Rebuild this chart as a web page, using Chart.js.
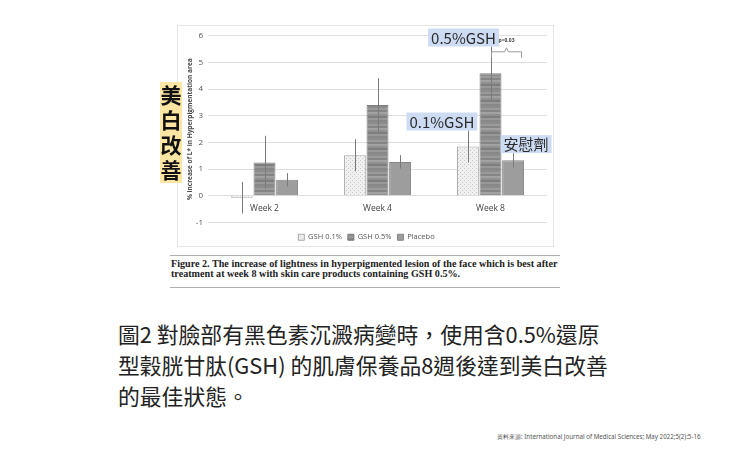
<!DOCTYPE html>
<html>
<head>
<meta charset="utf-8">
<script src="https://cdn.jsdelivr.net/npm/chart.js@4.4.1/dist/chart.umd.min.js"></script>
<style>
    body { margin: 0; width: 740px; height: 463px; background: #fff; position: relative; overflow: hidden; font-family: "Noto Sans CJK TC", "Noto Sans", sans-serif; }
    #frame { position: absolute; left: 177px; top: 25px; width: 375px; height: 220px; border: 1px solid #e4e4e4; }
    #frame canvas { position: absolute; left: 0; top: 0; }
    #tag { position: absolute; left: 160px; top: 82px; width: 22px; height: 101px; background: #fde6a3; color: #111; font-weight: 700; font-size: 21px; line-height: 25px; text-align: center; }
    .rule { position: absolute; left: 170px; width: 390px; height: 0; border-top: 1.5px solid #b0b0b0; }
    #caption { position: absolute; left: 171px; top: 259px; font-family: "Liberation Serif", serif; font-weight: 700; font-size: 10.15px; line-height: 9.5px; color: #222; white-space: nowrap; }
    #desc { position: absolute; left: 118px; top: 318px; font-size: 21.8px; line-height: 31px; color: #222; white-space: nowrap; }
    #source { position: absolute; left: 497px; top: 432px; font-family: "Noto Sans", sans-serif; font-size: 6.2px; color: #555; white-space: nowrap; }
</style>
</head>
<body>
<div id="frame"><canvas id="myChart" width="375" height="225"></canvas></div>
<div id="tag">美<br>白<br>改<br>善</div>
<div class="rule" style="top:255px"></div>
<div id="caption">Figure 2. The increase of lightness in hyperpigmented lesion of the face which is best after<br>treatment at week 8 with skin care products containing GSH 0.5%.</div>
<div class="rule" style="top:287px"></div>
<div id="desc">圖2 對臉部有黑色素沉澱病變時，使用含0.5%還原<br>型穀胱甘肽(GSH) 的肌膚保養品8週後達到美白改善<br>的最佳狀態。</div>
<div id="source">資料來源: International Journal of Medical Sciences; May 2022;5(2):5-16</div>
<script>
const categories = ["Week 2", "Week 4", "Week 8"];
const seriesNames = ["GSH 0.1%", "GSH 0.5%", "Placebo"];
const gsh01 = [-0.07, 1.52, 1.85];
const gsh01Err = [0.59, 0.6, 0.6];
const gsh05 = [1.25, 3.41, 4.6];
const gsh05Err = [1.0, 1.0, 1.0];
const placebo = [0.6, 1.27, 1.33];
const placeboErr = [0.25, 0.25, 0.27];
const yMin = -1;
const yMax = 6;
const yTitle = "% increase of L* in Hyperpigmentation area";
// callout labels: [text, dataset, category]
const callouts = [["0.5%GSH", 1, 2], ["0.1%GSH", 0, 2], ["安慰劑", 2, 2]];
const pValue = "p=0.03";

const errors = [gsh01Err, gsh05Err, placeboErr];

function makePattern(kind) {
    const c = document.createElement("canvas");
    const g = c.getContext("2d");
    if (kind === "dots") {
        c.width = 4; c.height = 4;
        g.fillStyle = "#f0f0f0";
        g.fillRect(0, 0, 4, 4);
        g.fillStyle = "#c8c8c8";
        g.fillRect(0, 0, 1, 1);
        g.fillRect(2, 2, 1, 1);
    } else {
        const rows = ["#8c8c8c", "#9a9a9a", "#858585", "#a2a2a2", "#909090", "#7e7e7e", "#999999", "#888888"];
        c.width = 4; c.height = rows.length * 2;
        rows.forEach((col, i) => {
            g.fillStyle = col;
            g.fillRect(0, i * 2, 4, 2);
        });
    }
    return g.createPattern(c, "repeat");
}

const ctx = document.getElementById("myChart").getContext("2d");

const extras = {
    id: "extras",
    afterDatasetsDraw(chart) {
        const { ctx, scales: { x, y } } = chart;
        ctx.save();

        // error bars
        ctx.strokeStyle = "#7a7a7a";
        ctx.lineWidth = 1;
        chart.data.datasets.forEach((ds, d) => {
            chart.getDatasetMeta(d).data.forEach((bar, i) => {
                const v = ds.data[i], e = errors[d][i];
                const bx = Math.round(bar.x) + 0.5;
                ctx.beginPath();
                ctx.moveTo(bx, y.getPixelForValue(v + e));
                ctx.lineTo(bx, y.getPixelForValue(v - e));
                ctx.stroke();
            });
        });

        // category labels sit under the zero line
        ctx.fillStyle = "#444";
        ctx.font = "8.5px 'Open Sans', sans-serif";
        ctx.textAlign = "center";
        ctx.textBaseline = "middle";
        categories.forEach((c, i) => {
            ctx.fillText(c, x.getPixelForValue(i), y.getPixelForValue(0) + 13);
        });

        // callouts above the error bars
        const offsets = { 0: -26, 1: -27, 2: 13 };
        ctx.font = "15px 'Noto Sans CJK TC', 'Noto Sans', sans-serif";
        callouts.forEach(([text, d, i]) => {
            const bar = chart.getDatasetMeta(d).data[i];
            const top = y.getPixelForValue(chart.data.datasets[d].data[i] + errors[d][i]);
            const w = ctx.measureText(text).width + 6;
            const cx = bar.x + offsets[d];
            ctx.fillStyle = "#cddcf3";
            ctx.fillRect(cx - w / 2, top - 18, w, 18);
            ctx.fillStyle = "#2a2a2a";
            ctx.fillText(text, cx, top - 8.5);
        });

        // significance bracket between GSH 0.5% and placebo
        const b1 = chart.getDatasetMeta(1).data[2];
        const b2 = chart.getDatasetMeta(2).data[2];
        const x1 = Math.round(b1.x) + 0.5, x2 = Math.round(b2.x) + 8.5;
        const by = y.getPixelForValue(5.4);
        const mid = (x1 + x2) / 2;
        ctx.strokeStyle = "#9a9a9a";
        ctx.beginPath();
        ctx.moveTo(x1, by + 6);
        ctx.lineTo(x1, by);
        ctx.lineTo(mid - 2, by);
        ctx.lineTo(mid, by - 4);
        ctx.lineTo(mid + 2, by);
        ctx.lineTo(x2, by);
        ctx.lineTo(x2, by + 6);
        ctx.stroke();
        ctx.fillStyle = "#444";
        ctx.font = "bold 5px 'Open Sans', sans-serif";
        ctx.fillText(pValue, mid, by - 11);

        ctx.restore();
    }
};

const myChart = new Chart(ctx, {
    type: "bar",
    data: {
        labels: categories,
        datasets: [
            {
                label: seriesNames[0],
                data: gsh01,
                backgroundColor: makePattern("dots"),
                borderColor: "#a8a8a8",
                borderWidth: 1
            },
            {
                label: seriesNames[1],
                data: gsh05,
                backgroundColor: makePattern("stripes"),
                borderColor: "#7c7c7c",
                borderWidth: 1
            },
            {
                label: seriesNames[2],
                data: placebo,
                backgroundColor: "#9d9d9d",
                borderColor: "#858585",
                borderWidth: 1
            }
        ]
    },
    options: {
        responsive: false,
        animation: false,
        layout: { padding: { top: 7, right: 6, bottom: 0, left: 8 } },
        datasets: { bar: { categoryPercentage: 0.6, barPercentage: 0.97 } },
        plugins: {
            tooltip: { enabled: false },
            legend: {
                position: "bottom",
                labels: {
                    boxWidth: 6,
                    boxHeight: 6,
                    padding: 6,
                    color: "#555",
                    font: { size: 7.5, family: "'Open Sans', sans-serif" }
                }
            }
        },
        scales: {
            x: {
                ticks: { display: false },
                grid: { display: false },
                border: { display: false },
                afterFit(scale) { scale.height = 5; }
            },
            y: {
                min: yMin,
                max: yMax,
                ticks: {
                    stepSize: 1,
                    color: "#555",
                    padding: 5,
                    font: { size: 8, family: "'Open Sans', sans-serif" }
                },
                grid: { color: "#dedede", drawTicks: false },
                border: { display: false },
                title: {
                    display: true,
                    text: yTitle,
                    color: "#4a4a4a",
                    padding: { top: 0, bottom: 0 },
                    font: { size: 6.5, weight: "bold", family: "'Open Sans', sans-serif" }
                },
                afterFit(scale) { scale.width = 22; }
            }
        }
    },
    plugins: [extras]
});
</script>
</body>
</html>
